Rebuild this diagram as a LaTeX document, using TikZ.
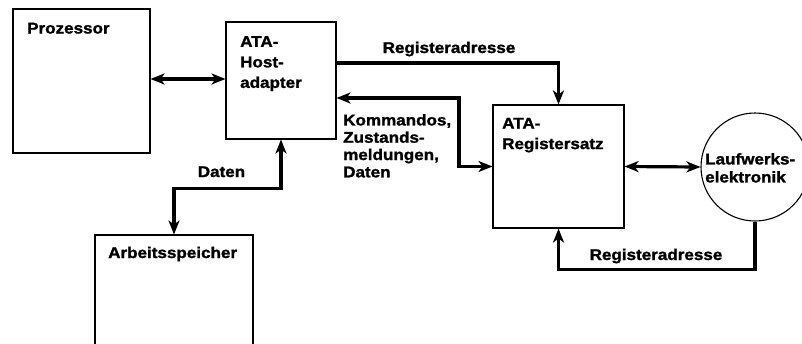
\documentclass[tikz,border=0pt]{standalone}
\usepackage{fontspec}
\usepackage{tikz}
\usetikzlibrary{arrows.meta,positioning}
\newfontfamily\atafont{Liberation Sans}[FakeStretch=1.1,
  BoldFeatures={FakeBold=1.5}]
\tikzset{
  atabox/.style={rectangle,draw=black,line width=1.1pt,inner sep=0pt},
  atadrive/.style={circle,draw=black,line width=1.1pt,inner sep=0pt,
                   minimum size=108pt},
  atatext/.style={font=\atafont\bfseries\fontsize{15.5}{#1}\selectfont,
                  inner sep=0pt,align=left},
  atatext/.default=20.5,
  ataarrow/.style={-{Stealth[length=14pt,width=11pt,inset=4pt]},
                   line width=3.2pt},
  atabiarrow/.style={{Stealth[length=14pt,width=11pt,inset=4pt]}-%
                     {Stealth[length=14pt,width=11pt,inset=4pt]},
                     line width=3.2pt}
}

\begin{document}
\begin{tikzpicture}[x=1pt,y=-1pt]
    \useasboundingbox (0,0) rectangle (802,343);
    \clip (0,0) rectangle (802,343);

    \node[atabox,minimum width=137pt,minimum height=144pt] (cpu) at (81.5,81) {};
    \node[atabox,minimum width=110pt,minimum height=117pt] (host) at (281,80.5) {};
    \node[atabox,minimum width=158pt,minimum height=165pt] (mem) at (174,317.5) {};
    \node[atabox,minimum width=131pt,minimum height=123pt] (regs) at (558.5,166.5) {};
    \node[atadrive] (drive) at (755,167) {};

    \node[atatext,anchor=base west] (cpulbl) at (27,33.5) {Prozessor};
    \node[atatext,anchor=north west] (hostlbl) at (240,36) {ATA-\\Host-\\adapter};
    \node[atatext,anchor=base west] (memlbl) at (108,258) {Arbeitsspeicher};
    \node[atatext,anchor=north west] (regslbl) at (502,117.7) {ATA-\\Registersatz};
    \node[atatext=18,anchor=north west] (drivelbl) at (705,153) {Laufwerks-\\elektronik};

    \draw[atabiarrow] (cpu.east |- 0,79) -- (host.west |- 0,79);
    \draw[ataarrow] (host.east |- 0,63) -| (regs.north);
    \draw[atabiarrow] (host.east |- 0,98) -- (459,98) |- (regs.west);
    \draw[atabiarrow] (regs.east) -- (drive.west);
    \draw[ataarrow] (drive.south) -- ++(0,48) -| (regs.south);
    \draw[atabiarrow] (host.south) -- ++(0,49) -| (mem.north);

    \node[atatext,anchor=base] (addrtop) at (449,53) {Registeradresse};
    \node[atatext=17.3,anchor=north west] (cmdlbl) at (343,114)
      {Kommandos,\\Zustands-\\meldungen,\\Daten};
    \node[atatext,anchor=base] (datalbl) at (221.5,177) {Daten};
    \node[atatext,anchor=base] (addrbot) at (656,260) {Registeradresse};
\end{tikzpicture}
\end{document}
